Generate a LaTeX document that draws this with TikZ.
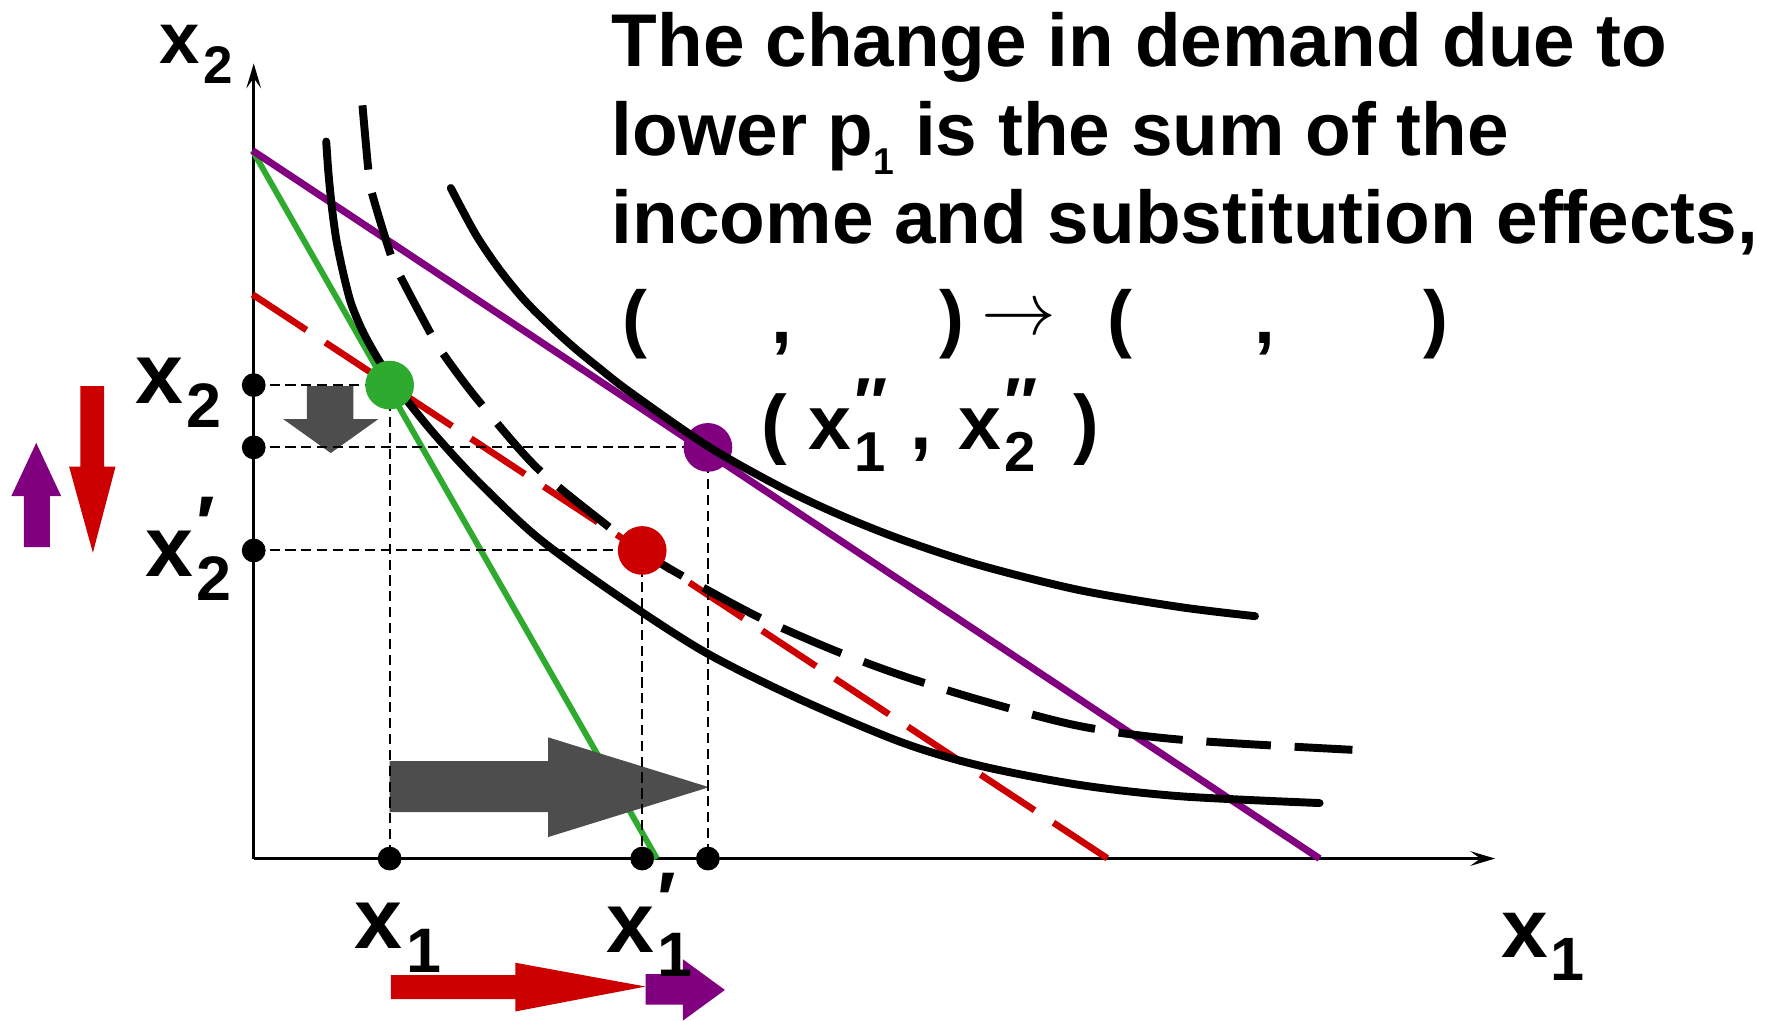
\documentclass[tikz,border=0pt]{standalone}
\usepackage{fontspec}
\setmainfont{Liberation Sans}
\usetikzlibrary{arrows.meta}
\definecolor{cgreen}{RGB}{46,170,46}
\definecolor{cpurple}{RGB}{128,0,128}
\definecolor{cred}{RGB}{204,0,0}
\definecolor{cgray}{RGB}{77,77,77}
\newcommand\xlab[2]{x\kern0.04em\rlap{\raisebox{0.3em}{\scalebox{0.9}{#2}}}\raisebox{-0.28em}{\scalebox{0.73}{#1}}}
\tikzset{
  axisline/.style={line width=2.2pt,-{Stealth[length=22pt,width=13pt,inset=9pt]}},
  guide/.style={line width=1.8pt,dash pattern=on 9pt off 5pt},
  icurve/.style={line width=7pt,line cap=round},
  dcurve/.style={line width=7pt,dash pattern=on 57pt off 21pt},
  axdot/.style={circle,fill=black,inner sep=0pt,minimum size=21pt},
  bigdot/.style={circle,inner sep=0pt,minimum size=43pt},
  lbl/.style={anchor=base west,inner sep=0pt,font=\fontsize{76}{76}\selectfont\bfseries},
  txt/.style={anchor=base west,inner sep=0pt,font=\fontsize{66}{78}\selectfont\bfseries},
  grayarrow/.style={fill=cgray}
}
\begin{document}
\begin{tikzpicture}[x=1pt,y=-1pt]
\useasboundingbox (0,0) rectangle (1568,901);
% coordinates
\coordinate (O) at (224,758);
\coordinate (Yt) at (224,56);
\coordinate (Xt) at (1320,758);
\coordinate (B0) at (223,133);
\coordinate (Bg) at (580,758);
\coordinate (Bp) at (1165,758);
\coordinate (R0) at (223,260);
\coordinate (R1) at (978,758);
\coordinate (G) at (344,340);
\coordinate (P) at (625,395);
\coordinate (R) at (567,486);
\coordinate (ya) at (224,340);
\coordinate (yb) at (224,395);
\coordinate (yc) at (224,486);
\coordinate (xa) at (344,758);
\coordinate (xb) at (567,758);
\coordinate (xc) at (625,758);
% axes
\draw[axisline] (O) -- (Yt);
\draw[axisline] (O) -- (Xt);
% budget lines
\draw[line width=5.2pt,cgreen] (B0) -- (Bg);
\draw[line width=6.2pt,cpurple] (B0) -- (Bp);
\draw[line width=5.8pt,cred,dash pattern=on 57pt off 20pt] (R0) -- (R1);
% gray arrows
\fill[grayarrow] (344,672) -- (484,672) -- (484,651) -- (626,695) -- (484,739) -- (484,717) -- (344,717) -- cycle;
\fill[grayarrow] (271,341) -- (312,341) -- (312,370) -- (334,370) -- (292,400) -- (250,370) -- (271,370) -- cycle;
% guides
\draw[guide] (ya) -- (G);
\draw[guide] (yb) -- (P);
\draw[guide] (yc) -- (R);
\draw[guide] (G) -- (xa);
\draw[guide] (R) -- (xb);
\draw[guide] (P) -- (xc);
% purple point (under curve)
\node[bigdot,fill=cpurple] (Pdot) at (P) {};
% indifference curves
\draw[icurve] plot[smooth,tension=0.5] coordinates {(288,125) (290,153) (293,183) (297,212) (303,241) (310,268) (320,292) (332,314) (346,336) (362,357) (385,385) (421,424) (474,474) (541,523) (621,575) (703,616) (795,655) (865,676) (953,693) (1042,703) (1165,709)};
\draw[dcurve] plot[smooth,tension=0.5] coordinates {(320,93) (325,148) (328,169) (344,222) (353,243) (380,294) (391,312) (421,352) (474,413) (536,464) (566,486) (598,506) (668,544) (736,574) (795,596) (865,618) (953,641) (1042,653) (1194,662)};
\draw[icurve] plot[smooth,tension=0.5] coordinates {(398,166) (420,207) (441,238) (463,265) (486,288) (507,307) (529,325) (556,346) (625,394) (689,430) (740,454) (795,476) (865,499) (953,521) (1042,536) (1108,544)};
% green and red points
\node[bigdot,fill=cgreen] (Gdot) at (G) {};
\node[bigdot,fill=cred] (Rdot) at (R) {};
% axis dots
\node[axdot] (dya) at (ya) {};
\node[axdot] (dyb) at (yb) {};
\node[axdot] (dyc) at (yc) {};
\node[axdot] (dxa) at (xa) {};
\node[axdot] (dxb) at (xb) {};
\node[axdot] (dxc) at (xc) {};
% side arrows
\fill[cred] (71,341) -- (92,341) -- (92,412) -- (102,412) -- (82,488) -- (61,412) -- (71,412) -- cycle;
\fill[cpurple] (21,483) -- (44,483) -- (44,438) -- (54,438) -- (32,391) -- (10,438) -- (21,438) -- cycle;
\fill[cred] (345,861) -- (455,861) -- (455,850) -- (570,871) -- (455,893) -- (455,882) -- (345,882) -- cycle;
\fill[cpurple] (570,860) -- (603,860) -- (603,847) -- (640,874) -- (603,901) -- (603,887) -- (570,887) -- cycle;
% labels
\node[lbl,font=\fontsize{64}{64}\selectfont\bfseries] (ax2) at (141,56) {\xlab{2}{}};
\node[lbl,font=\fontsize{74}{74}\selectfont\bfseries] (ax1) at (1325,845) {\xlab{1}{}};
\node[lbl] (lx2) at (119,356) {\xlab{2}{}};
\node[lbl] (lx2p) at (128,509) {\xlab{2}{′}};
\node[lbl] (lx1) at (313,837) {\xlab{1}{}};
\node[lbl] (lx1p) at (535,841) {\xlab{1}{′}};
\node[lbl,font=\fontsize{68}{68}\selectfont\bfseries] (pp) at (672,397) {(\hspace{19pt}\xlab{1}{″}\hspace{22pt},\hspace{23pt}\xlab{2}{″}\hspace{34pt})};
% text
\node[txt] (t1) at (540,59) {The change in demand due to};
\node[txt] (t2) at (540,137) {lower p\raisebox{-17pt}{\fontsize{33}{33}\selectfont 1} is the sum of the};
\node[txt] (t3) at (540,215) {income and substitution effects,};
\node[txt] (t4) at (549,303) {\makebox[132pt][l]{(}\makebox[148pt][l]{,}\makebox[37pt][l]{)}\makebox[112pt][l]{\raisebox{8pt}{\scalebox{6.6}{\fontsize{10}{12}\selectfont$\rightarrow$}}}\makebox[129pt][l]{(}\makebox[150pt][l]{,})};
\end{tikzpicture}
\end{document}
